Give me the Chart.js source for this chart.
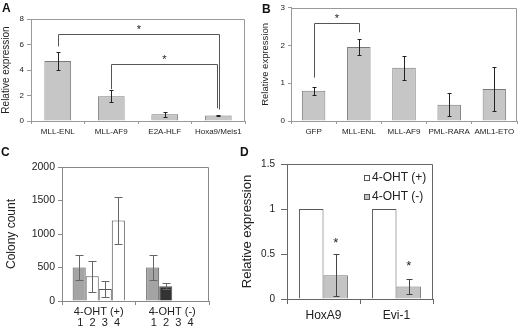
<!DOCTYPE html>
<html>
<head>
<meta charset="utf-8">
<script src="https://cdn.jsdelivr.net/npm/chart.js@4"></script>
<style>
  html, body { margin: 0; padding: 0; background: #fff; }
  #fig { position: relative; width: 520px; height: 332px; overflow: hidden; }
  canvas { position: absolute; }
  .tag { position: absolute; font: bold 12px Arial, "Liberation Sans", sans-serif; color: #111; line-height: 12px; }
</style>
</head>
<body>
<div id="fig">
  <canvas id="chartA" width="255" height="145" style="left:0;top:0"></canvas>
  <canvas id="chartB" width="262" height="145" style="left:258px;top:0"></canvas>
  <canvas id="chartC" width="240" height="182" style="left:0;top:150px"></canvas>
  <canvas id="chartD" width="280" height="182" style="left:240px;top:150px"></canvas>
  <div class="tag" style="left:2px;top:2px">A</div>
  <div class="tag" style="left:262px;top:3px">B</div>
  <div class="tag" style="left:1px;top:146px">C</div>
  <div class="tag" style="left:240px;top:146px">D</div>
</div>
<script>
// A - relative expression by fusion
const catsA = ['MLL-ENL', 'MLL-AF9', 'E2A-HLF', 'Hoxa9/Meis1'];
const valsA = [4.7, 1.95, 0.53, 0.44];
const errA = [0.7, 0.48, 0.2, 0.05];
const ticksA = [0, 2, 4, 6, 8];
// significance brackets (value units)
const brFromA = [0, 1];
const brToA = [3, 3];
const brLeftA = [5.85, 2.5];
const brTopA = [6.85, 4.45];
const brRightA = [0.9, 1.0];

// B
const catsB = ['GFP', 'MLL-ENL', 'MLL-AF9', 'PML-RARA', 'AML1-ETO'];
const valsB = [0.8, 1.96, 1.41, 0.43, 0.85];
const errB = [0.11, 0.2, 0.32, 0.3, 0.58];
const ticksB = [0, 1, 2, 3];
const brFromB = [0];
const brToB = [1];
const brLeftB = [1.15];
const brTopB = [2.6];
const brRightB = [2.35];

// C - colony count
const groupsC = ['4-OHT (+)', '4-OHT (-)'];
const barLabelsC = ['1', '2', '3', '4'];
const valsC1 = [500, 500];
const valsC2 = [370, 220];
const valsC3 = [180, 0];
const valsC4 = [1200, 0];
const errC1 = [185, 185];
const errC2 = [230, 48];
const errC3 = [125, 0];
const errC4 = [355, 0];
const ticksC = [0, 500, 1000, 1500, 2000];

// D
const catsD = ['HoxA9', 'Evi-1'];
const seriesD = ['4-OHT (+)', '4-OHT (-)'];
const valsDplus = [1, 1];
const valsDminus = [0.265, 0.14];
const errDminus = [0.23, 0.08];
const starsD = [0.655, 0.40];
const ticksD = [0, 0.5, 1, 1.5];

Chart.defaults.font.family = 'Arial, "Liberation Sans", sans-serif';
Chart.defaults.color = '#222';
Chart.defaults.animation = false;
Chart.defaults.responsive = false;
Chart.defaults.plugins.legend.display = false;
Chart.defaults.plugins.tooltip.enabled = false;

// frame, error bars, brackets, stars, legend
const extras = {
    id: 'extras',
    afterDatasetsDraw(chart, args, opts) {
        const ctx = chart.ctx;
        const area = chart.chartArea;
        const ys = chart.scales.y;
        const px = v => ys.getPixelForValue(v);
        const r = v => Math.round(v) + 0.5;
        ctx.save();
        ctx.lineWidth = 1;
        ctx.strokeStyle = opts.frameColor;
        ctx.beginPath();
        ctx.moveTo(area.left, r(area.top));
        ctx.lineTo(r(area.right - 1), r(area.top));
        ctx.lineTo(r(area.right - 1), area.bottom);
        ctx.stroke();

        ctx.strokeStyle = opts.errColor;
        chart.data.datasets.forEach((ds, di) => {
            if (!ds.errors) return;
            chart.getDatasetMeta(di).data.forEach((bar, i) => {
                const e = ds.errors[i];
                if (!e) return;
                const x = r(bar.x);
                const t = r(px(ds.data[i] + e));
                const b = r(px(ds.data[i] - e));
                const w = opts.cap;
                ctx.beginPath();
                ctx.moveTo(x, t); ctx.lineTo(x, b);
                ctx.moveTo(x - w, t); ctx.lineTo(x + w, t);
                ctx.moveTo(x - w, b); ctx.lineTo(x + w, b);
                ctx.stroke();
            });
        });

        ctx.fillStyle = '#222';
        ctx.textAlign = 'center';
        ctx.textBaseline = 'alphabetic';
        if (opts.brackets) {
            const bars = chart.getDatasetMeta(0).data;
            const br = opts.brackets;
            ctx.strokeStyle = '#555';
            ctx.font = '11px Arial, "Liberation Sans", sans-serif';
            br.from.forEach((f, k) => {
                const x1 = r(bars[f].x);
                const x2 = r(bars[br.to[k]].x) + (k === 0 && br.from.length > 1 ? 1 : 0) - (k === 1 ? 1 : 0);
                const yt = r(px(br.top[k]));
                ctx.beginPath();
                ctx.moveTo(x1, px(br.left[k]));
                ctx.lineTo(x1, yt);
                ctx.lineTo(x2, yt);
                ctx.lineTo(x2, px(br.right[k]));
                ctx.stroke();
                ctx.fillText('*', (x1 + x2) / 2, yt - 2);
            });
        }
        if (opts.stars) {
            const bars = chart.getDatasetMeta(opts.stars.dataset).data;
            ctx.font = '13px Arial, "Liberation Sans", sans-serif';
            opts.stars.values.forEach((v, i) => {
                ctx.fillText('*', bars[i].x, px(v) + 7);
            });
        }
        if (opts.legend) {
            const lg = opts.legend;
            ctx.font = '12px Arial, "Liberation Sans", sans-serif';
            ctx.textAlign = 'left';
            ctx.textBaseline = 'middle';
            chart.data.datasets.forEach((ds, di) => {
                const yc = lg.y + di * lg.step;
                ctx.fillStyle = ds.backgroundColor;
                ctx.fillRect(lg.x, yc - 3, 6, 6);
                ctx.strokeStyle = '#555';
                ctx.strokeRect(lg.x + 0.5, yc - 2.5, 5, 5);
                ctx.fillStyle = '#222';
                ctx.fillText(ds.label, lg.x + 8, yc);
            });
        }
        ctx.restore();
    }
};

function yAxis(ticks, width, title, fs, tfs, tickLen, pad, titlePad, color) {
    return {
        min: ticks[0],
        max: ticks[ticks.length - 1],
        afterBuildTicks(s) { s.ticks = ticks.map(v => ({ value: v })); },
        grid: { drawOnChartArea: false, tickLength: tickLen, color: color },
        border: { color: color },
        ticks: { font: { size: fs }, padding: pad, callback: v => String(v) },
        title: { display: true, text: title, font: { size: tfs }, padding: titlePad },
        afterFit(s) { s.width = width; }
    };
}

function xAxis(height, fs, tickLen, pad, color, lh) {
    return {
        grid: { drawOnChartArea: false, tickLength: tickLen, color: color },
        border: { color: color },
        ticks: { font: { size: fs, lineHeight: lh || 1.2 }, padding: pad, maxRotation: 0, autoSkip: false },
        afterFit(s) { s.height = height; }
    };
}

new Chart(document.getElementById('chartA'), {
    type: 'bar',
    data: {
        labels: catsA,
        datasets: [{
            data: valsA,
            errors: errA,
            backgroundColor: '#c6c6c6',
            borderColor: '#7a7a7a',
            borderWidth: 1,
            barPercentage: 0.5,
            categoryPercentage: 1
        }]
    },
    options: {
        layout: { padding: { left: 0, right: 10, top: 19, bottom: 0 } },
        scales: {
            x: xAxis(24, 8, 3, 3, '#999'),
            y: yAxis(ticksA, 31, 'Relative expression', 8, 10, 4, 3, 0, '#999')
        },
        plugins: {
            extras: {
                frameColor: '#999', errColor: '#222', cap: 2,
                brackets: { from: brFromA, to: brToA, left: brLeftA, top: brTopA, right: brRightA }
            }
        }
    },
    plugins: [extras]
});

new Chart(document.getElementById('chartB'), {
    type: 'bar',
    data: {
        labels: catsB,
        datasets: [{
            data: valsB,
            errors: errB,
            backgroundColor: '#c6c6c6',
            borderColor: '#7a7a7a',
            borderWidth: 1,
            barPercentage: 0.52,
            categoryPercentage: 1
        }]
    },
    options: {
        layout: { padding: { left: 0, right: 3, top: 5, bottom: 0 } },
        scales: {
            x: xAxis(24, 8, 3, 3, '#999'),
            y: yAxis(ticksB, 33, 'Relative expression', 8, 9.5, 3, 3, 2, '#999')
        },
        plugins: {
            extras: {
                frameColor: '#999', errColor: '#222', cap: 2,
                brackets: { from: brFromB, to: brToB, left: brLeftB, top: brTopB, right: brRightB }
            }
        }
    },
    plugins: [extras]
});

const valsC = [valsC1, valsC2, valsC3, valsC4];
const errC = [errC1, errC2, errC3, errC4];
const fillC = ['#a4a4a4', ['#ffffff', '#333333'], '#ffffff', '#ffffff'];
new Chart(document.getElementById('chartC'), {
    type: 'bar',
    data: {
        labels: groupsC.map(g => [g, barLabelsC.join('  ')]),
        datasets: barLabelsC.map((lb, i) => ({
            label: lb,
            data: valsC[i],
            errors: errC[i],
            backgroundColor: fillC[i],
            borderColor: '#555',
            borderWidth: 1,
            barPercentage: 1,
            categoryPercentage: 0.71
        }))
    },
    options: {
        layout: { padding: { left: 0, right: 31, top: 17, bottom: 0 } },
        scales: {
            x: xAxis(31, 11, 4, 1, '#888', 1.0),
            y: yAxis(ticksC, 62, 'Colony count', 10.5, 12, 4, 3, 4, '#888')
        },
        plugins: {
            extras: { frameColor: '#888', errColor: '#666', cap: 4 }
        }
    },
    plugins: [extras]
});

new Chart(document.getElementById('chartD'), {
    type: 'bar',
    data: {
        labels: catsD,
        datasets: [{
            label: seriesD[0],
            data: valsDplus,
            backgroundColor: '#ffffff',
            borderColor: '#555',
            borderWidth: 1,
            barPercentage: 1,
            categoryPercentage: 0.67
        }, {
            label: seriesD[1],
            data: valsDminus,
            errors: errDminus,
            backgroundColor: '#c4c4c4',
            borderColor: '#777',
            borderWidth: 1,
            barPercentage: 1,
            categoryPercentage: 0.67
        }]
    },
    options: {
        layout: { padding: { left: 0, right: 87, top: 14, bottom: 0 } },
        scales: {
            x: xAxis(33, 12, 5, 4, '#666'),
            y: yAxis(ticksD, 47, 'Relative expression', 10, 13, 6, 6, 0, '#666')
        },
        plugins: {
            extras: {
                frameColor: '#666', errColor: '#444', cap: 3,
                stars: { dataset: 1, values: starsD },
                legend: { x: 124, y: 28, step: 19 }
            }
        }
    },
    plugins: [extras]
});
</script>
</body>
</html>
